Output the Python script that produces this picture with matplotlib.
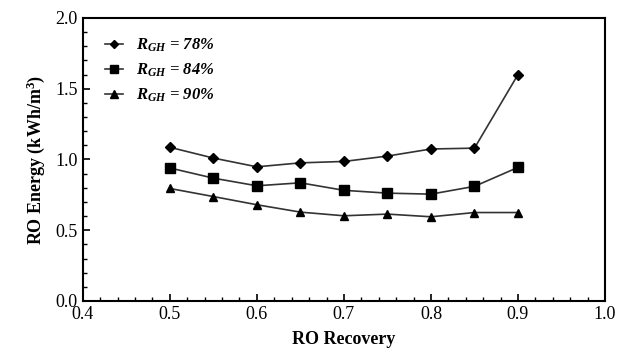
import matplotlib
matplotlib.use("Agg")
import matplotlib.pyplot as plt
from matplotlib.ticker import MultipleLocator

plt.rcParams['font.family'] = ['Liberation Serif', 'DejaVu Serif']
plt.rcParams['mathtext.fontset'] = 'custom'
plt.rcParams['mathtext.it'] = 'Liberation Serif:italic:bold'
plt.rcParams['mathtext.rm'] = 'Liberation Serif:bold'
plt.rcParams['mathtext.bf'] = 'Liberation Serif:bold'

recovery = [0.50, 0.55, 0.60, 0.65, 0.70, 0.75, 0.80, 0.85, 0.90]
energy_78 = [1.086, 1.01, 0.948, 0.976, 0.986, 1.024, 1.074, 1.08, 1.60]
energy_84 = [0.94, 0.868, 0.814, 0.835, 0.782, 0.762, 0.755, 0.81, 0.944]
energy_90 = [0.795, 0.738, 0.68, 0.628, 0.602, 0.614, 0.595, 0.625, 0.625]
labels = [r'$R_{GH}$ = 78%', r'$R_{GH}$ = 84%', r'$R_{GH}$ = 90%']

fig = plt.figure(figsize=(6.18, 3.59), dpi=100)
ax = fig.add_axes([0.134, 0.1616, 0.845, 0.7884])

lc = '#333333'
ax.plot(recovery, energy_78, color=lc, lw=1.2, marker='D', ms=5.2, mfc='black', mec='black', label=labels[0])
ax.plot(recovery, energy_84, color=lc, lw=1.2, marker='s', ms=6.5, mfc='black', mec='black', label=labels[1])
ax.plot(recovery, energy_90, color=lc, lw=1.2, marker='^', ms=6.2, mfc='black', mec='black', label=labels[2])

ax.set_xlim(0.4, 1.0)
ax.set_ylim(0.0, 2.0)
ax.xaxis.set_major_locator(MultipleLocator(0.1))
ax.xaxis.set_minor_locator(MultipleLocator(0.02))
ax.yaxis.set_major_locator(MultipleLocator(0.5))
ax.yaxis.set_minor_locator(MultipleLocator(0.1))
ax.xaxis.set_major_formatter(matplotlib.ticker.FormatStrFormatter('%.1f'))
ax.yaxis.set_major_formatter(matplotlib.ticker.FormatStrFormatter('%.1f'))
ax.tick_params(which='both', direction='in', top=False, right=False, labelsize=13)
ax.tick_params(which='major', length=5, width=1.2)
ax.tick_params(which='minor', length=3, width=1.0)
for s in ax.spines.values():
    s.set_linewidth(1.5)

ax.set_xlabel('RO Recovery', fontsize=13, fontweight='bold', labelpad=6)
ax.set_ylabel(r'RO Energy (kWh/m$^3$)', fontsize=13, fontweight='bold', labelpad=6)

leg = ax.legend(loc='upper left', bbox_to_anchor=(0.029, 0.958), frameon=False,
                handlelength=1.1, handletextpad=0.8, markerscale=0.85,
                labelspacing=0.47, borderaxespad=0.0,
                prop={'family': 'Liberation Serif', 'weight': 'bold', 'style': 'italic', 'size': 12})

fig.savefig('out.png', dpi=100)
